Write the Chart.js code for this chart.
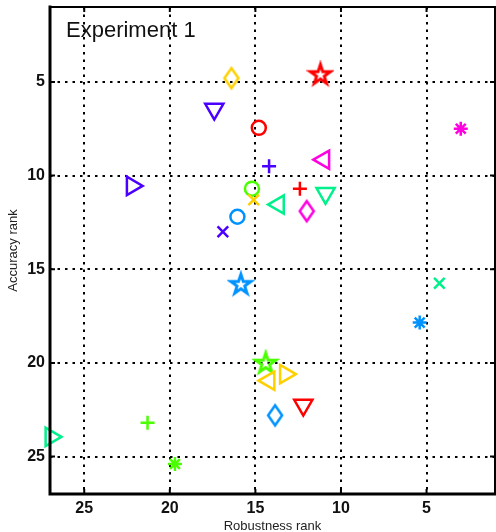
<!DOCTYPE html>
<html>
<head>
<meta charset="utf-8">
<script src="https://cdn.jsdelivr.net/npm/chart.js@4/dist/chart.umd.min.js"></script>
<style>
  html, body { margin: 0; padding: 0; background: #fff; }
  #wrap { width: 496px; height: 532px; position: relative; }
</style>
</head>
<body>
<div id="wrap"><canvas id="c" width="496" height="532"></canvas></div>
<script>
// Ranks of each method: robustness (x) and accuracy (y)
const robustnessRank = [16.4, 11.2, 17.4, 14.8, 3.0, 11.0, 14.2, 22.2, 15.2, 12.4, 10.9, 15.1, 13.65, 12.0,
                        16.05, 16.9, 15.85, 4.25, 5.4, 14.4, 13.25, 14.2, 12.2, 13.85, 21.3, 26.95, 19.7];
const accuracyRank   = [4.8, 4.6, 6.45, 7.45, 7.5, 9.15, 9.5, 10.55, 10.7, 10.7, 10.95, 11.3, 11.55, 11.9,
                        12.2, 13.0, 15.8, 15.75, 17.85, 20.0, 20.6, 20.95, 22.25, 22.8, 23.2, 23.95, 25.4];
const tickValues = [5, 10, 15, 20, 25];
const plotLabel = 'Experiment 1';
const xTitle = 'Robustness rank';
const yTitle = 'Accuracy rank';

// Seven-hue palette and the colour / marker of every method
const palette = ['#FF0000', '#FFD000', '#49FF00', '#00F08C', '#0092FF', '#4900FF', '#FF00E0'];
const pointColor  = [1, 0, 5, 0, 6, 6, 5, 5, 2, 0, 3, 1, 3, 6, 4, 5, 4, 3, 4, 2, 1, 1, 0, 4, 2, 3, 2];
const pointMarker = ['d', 'p', 'v', 'o', '*', '<', '+', '>', 'o', '+', 'v', 'x', '<', 'd',
                     'o', 'x', 'p', 'x', '*', 'p', '>', '<', 'v', 'd', '+', '>', '*'];

const FONT = '"Liberation Sans", Arial, sans-serif';

function makePentagram(color) {
  const c = document.createElement('canvas');
  c.width = 28; c.height = 28;
  const g = c.getContext('2d');
  const R = 10.5, r = R * 0.382, cx = 14, cy = 14.5;
  g.beginPath();
  for (let k = 0; k < 10; k++) {
    const ang = (-90 + k * 36) * Math.PI / 180;
    const rr = k % 2 === 0 ? R : r;
    const px = cx + rr * Math.cos(ang), py = cy + rr * Math.sin(ang);
    k === 0 ? g.moveTo(px, py) : g.lineTo(px, py);
  }
  g.closePath();
  g.lineWidth = 2.9;
  g.lineJoin = 'miter';
  g.strokeStyle = color;
  g.stroke();
  return c;
}

function makeDiamond(color) {
  const c = document.createElement('canvas');
  c.width = 22; c.height = 28;
  const g = c.getContext('2d');
  g.beginPath();
  g.moveTo(11, 4); g.lineTo(18, 14); g.lineTo(11, 24); g.lineTo(4, 14);
  g.closePath();
  g.lineWidth = 2.5;
  g.strokeStyle = color;
  g.stroke();
  return c;
}

const pentagrams = palette.map(makePentagram);
const diamonds = palette.map(makeDiamond);

function markerStyle(m, ci) {
  switch (m) {
    case 'o': return { style: 'circle', radius: 7, rot: 0 };
    case '+': return { style: 'cross', radius: 7, rot: 0 };
    case 'x': return { style: 'crossRot', radius: 7.5, rot: 0 };
    case '*': return { style: 'star', radius: 7, rot: 0 };
    case 'v': return { style: 'triangle', radius: 10.5, rot: 180 };
    case '<': return { style: 'triangle', radius: 10.5, rot: 270 };
    case '>': return { style: 'triangle', radius: 10.5, rot: 90 };
    case 'd': return { style: diamonds[ci], radius: 7, rot: 0 };
    case 'p': return { style: pentagrams[ci], radius: 7, rot: 0 };
  }
}

const styles = pointMarker.map((m, i) => markerStyle(m, pointColor[i]));
const points = robustnessRank.map((x, i) => ({ x, y: accuracyRank[i] }));

const framePlugin = {
  id: 'frame',
  beforeDatasetsDraw(chart) {
    const { ctx, chartArea: a } = chart;
    ctx.save();
    ctx.fillStyle = '#111';
    ctx.font = '22px ' + FONT;
    ctx.textBaseline = 'alphabetic';
    ctx.textAlign = 'left';
    ctx.fillText(plotLabel, a.left + 16, a.top + 30);
    ctx.restore();
  },
  afterDatasetsDraw(chart) {
    const { ctx, chartArea: a, scales } = chart;
    const xs = scales.x, ys = scales.y;
    ctx.save();
    ctx.strokeStyle = '#000';
    ctx.lineWidth = 2;
    const tl = 5;
    tickValues.forEach(v => {
      const px = xs.getPixelForValue(v);
      ctx.beginPath();
      ctx.moveTo(px, a.bottom); ctx.lineTo(px, a.bottom - tl);
      ctx.moveTo(px, a.top); ctx.lineTo(px, a.top + tl);
      ctx.stroke();
      const py = ys.getPixelForValue(v);
      ctx.beginPath();
      ctx.moveTo(a.left, py); ctx.lineTo(a.left + tl, py);
      ctx.moveTo(a.right, py); ctx.lineTo(a.right - tl, py);
      ctx.stroke();
    });
    // axes box
    ctx.lineCap = 'square';
    ctx.lineWidth = 2;
    ctx.beginPath();
    ctx.moveTo(a.left, a.top); ctx.lineTo(a.right, a.top); ctx.lineTo(a.right, a.bottom);
    ctx.stroke();
    ctx.lineWidth = 3;
    ctx.beginPath();
    ctx.moveTo(a.left, a.top); ctx.lineTo(a.left, a.bottom); ctx.lineTo(a.right, a.bottom);
    ctx.stroke();
    ctx.restore();
  }
};

const gridOpts = { color: '#000', lineWidth: 2, drawTicks: false };
const borderOpts = { display: false, dash: [2.5, 5] };
const tickFont = { family: FONT, size: 16, weight: 'bold' };
const noPad = s => { s.paddingLeft = 0; s.paddingRight = 0; s.paddingTop = 0; s.paddingBottom = 0; };

new Chart(document.getElementById('c'), {
  type: 'scatter',
  data: {
    datasets: [{
      data: points,
      clip: false,
      backgroundColor: 'rgba(0,0,0,0)',
      borderColor: pointColor.map(ci => palette[ci]),
      pointBorderColor: pointColor.map(ci => palette[ci]),
      pointBackgroundColor: 'rgba(0,0,0,0)',
      pointBorderWidth: 2.5,
      pointStyle: styles.map(s => s.style),
      pointRadius: styles.map(s => s.radius),
      pointRotation: styles.map(s => s.rot),
      pointHoverRadius: styles.map(s => s.radius)
    }]
  },
  options: {
    responsive: false,
    animation: false,
    events: [],
    layout: { autoPadding: false, padding: { top: 7, right: 1, left: 0, bottom: 0 } },
    plugins: { legend: { display: false }, tooltip: { enabled: false } },
    scales: {
      x: {
        type: 'linear', position: 'bottom', reverse: true, min: 1, max: 27,
        afterBuildTicks: s => { s.ticks = tickValues.map(v => ({ value: v })); },
        afterFit: s => { s.height = 38; noPad(s); },
        grid: gridOpts, border: borderOpts,
        ticks: { font: tickFont, color: '#111', padding: 5, maxRotation: 0, autoSkip: false },
        title: { display: true, text: xTitle, color: '#222', font: { family: FONT, size: 13, lineHeight: 1 }, padding: { top: 0, bottom: -1 } }
      },
      y: {
        type: 'linear', position: 'left', reverse: true, min: 1, max: 27,
        afterBuildTicks: s => { s.ticks = tickValues.map(v => ({ value: v })); },
        afterFit: s => { s.width = 50; noPad(s); },
        grid: gridOpts, border: borderOpts,
        ticks: { font: tickFont, color: '#111', padding: 5, autoSkip: false },
        title: { display: true, text: yTitle, color: '#222', font: { family: FONT, size: 13, lineHeight: 1 }, padding: { top: 7, bottom: 0 } }
      }
    }
  },
  plugins: [framePlugin]
});
</script>
</body>
</html>
